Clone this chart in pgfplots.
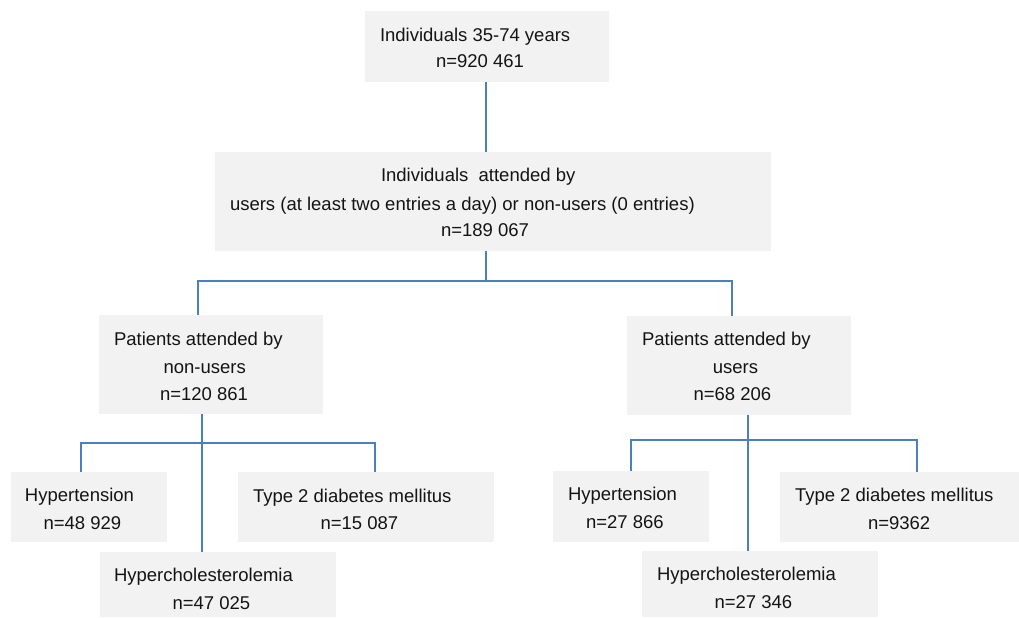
\documentclass[border=0pt]{standalone}
\usepackage{fontspec}
\setmainfont{Liberation Sans}
\usepackage{pgfplots}
\pgfplotsset{compat=1.18}
\definecolor{boxgray}{RGB}{242,242,242}
\definecolor{linkblue}{RGB}{76,127,192}
\definecolor{txt}{RGB}{20,20,20}
\tikzset{t/.style={font=\fontsize{9.25}{11}\selectfont, text=txt, inner sep=0pt, outer sep=0pt, anchor=base west}}
\begin{document}
\begin{tikzpicture}
\begin{axis}[
  scale only axis, width=509.5pt, height=308.5pt,
  xmin=0, xmax=1019, ymin=0, ymax=617, y dir=reverse,
  hide axis, clip=true,
  box/.style={draw=none, fill=boxgray, forget plot, mark=none},
  link/.style={linkblue, line width=0.7pt, mark=none, forget plot},
]
% invisible frame that fixes the picture size
\addplot[draw=none, fill=none, forget plot, mark=none] coordinates {(0,0) (1019,0) (1019,617) (0,617)} -- cycle;
% boxes
\addplot[box] coordinates {(365,11) (609,11) (609,82) (365,82)} -- cycle;
\addplot[box] coordinates {(215,152) (771,152) (771,251) (215,251)} -- cycle;
\addplot[box] coordinates {(99,315) (323,315) (323,414) (99,414)} -- cycle;
\addplot[box] coordinates {(627,316) (851,316) (851,415) (627,415)} -- cycle;
\addplot[box] coordinates {(11,472) (167,472) (167,542) (11,542)} -- cycle;
\addplot[box] coordinates {(238,472) (494,472) (494,542) (238,542)} -- cycle;
\addplot[box] coordinates {(100,552) (336,552) (336,617) (100,617)} -- cycle;
\addplot[box] coordinates {(553,471) (709,471) (709,542) (553,542)} -- cycle;
\addplot[box] coordinates {(780,472) (1019,472) (1019,542) (780,542)} -- cycle;
\addplot[box] coordinates {(642,551) (878,551) (878,617) (642,617)} -- cycle;
% connectors
\addplot[link] coordinates {(486,82) (486,152)};
\addplot[link] coordinates {(486,251) (486,281)};
\addplot[link] coordinates {(198,315) (198,281) (732,281) (732,316)};
\addplot[link] coordinates {(202,414) (202,552)};
\addplot[link] coordinates {(81,472) (81,443) (375,443) (375,472)};
\addplot[link] coordinates {(748,415) (748,551)};
\addplot[link] coordinates {(631,471) (631,440) (917,440) (917,472)};
% texts
\node[t] at (axis cs:380,41) {Individuals 35-74 years};
\node[t] at (axis cs:436,67.7) {n=920 461};
\node[t] at (axis cs:381,181.7) {Individuals \ attended by};
\node[t] at (axis cs:230,210) {users (at least two entries a day) or non-users (0 entries)};
\node[t] at (axis cs:441,236.7) {n=189 067};
\node[t] at (axis cs:114,345.7) {Patients attended by};
\node[t] at (axis cs:163.5,373.3) {non-users};
\node[t] at (axis cs:160,400) {n=120 861};
\node[t] at (axis cs:25,501.7) {Hypertension};
\node[t] at (axis cs:43.5,529.3) {n=48 929};
\node[t] at (axis cs:253,502) {Type 2 diabetes mellitus};
\node[t] at (axis cs:320.5,529.3) {n=15 087};
\node[t] at (axis cs:114,581) {Hypercholesterolemia};
\node[t] at (axis cs:172.5,609.3) {n=47 025};
\node[t] at (axis cs:642,345.7) {Patients attended by};
\node[t] at (axis cs:712.8,373) {users};
\node[t] at (axis cs:693.5,400.7) {n=68 206};
\node[t] at (axis cs:568,500.7) {Hypertension};
\node[t] at (axis cs:586,528) {n=27 866};
\node[t] at (axis cs:795,501.3) {Type 2 diabetes mellitus};
\node[t] at (axis cs:868,529) {n=9362};
\node[t] at (axis cs:657,580) {Hypercholesterolemia};
\node[t] at (axis cs:714.5,608) {n=27 346};
\end{axis}
\end{tikzpicture}
\end{document}
